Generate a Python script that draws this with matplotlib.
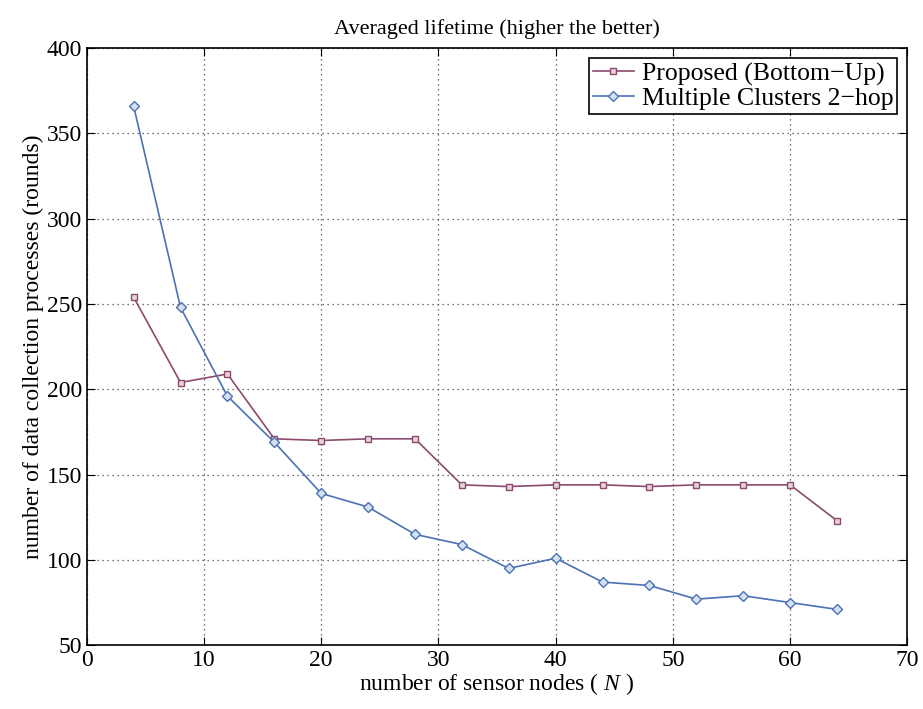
import matplotlib
matplotlib.use("Agg")
import matplotlib.pyplot as plt

# --- data ---
nodes = [4, 8, 12, 16, 20, 24, 28, 32, 36, 40, 44, 48, 52, 56, 60, 64]
proposed = [254, 204, 209, 171, 170, 171, 171, 144, 143, 144, 144, 143, 144, 144, 144, 123]
multi_2hop = [366, 248, 196, 169, 139, 131, 115, 109, 95, 101, 87, 85, 77, 79, 75, 71]

plt.rcParams['font.family'] = ['Liberation Serif', 'DejaVu Serif']
plt.rcParams['mathtext.fontset'] = 'custom'
plt.rcParams['mathtext.it'] = 'Liberation Serif:italic'
plt.rcParams['mathtext.rm'] = 'Liberation Serif'

fig = plt.figure(figsize=(9.23, 7.09), dpi=100)
ax = fig.add_axes([0.094, 0.090, 0.889, 0.842])

ax.plot(nodes, proposed, color='#8c4a6c', marker='s', markersize=5,
        markerfacecolor='#e6d3dc', markeredgecolor='#8c4a6c', linewidth=1.2,
        label='Proposed (Bottom\u2212Up)')
ax.plot(nodes, multi_2hop, color='#4a72b4', marker='D', markersize=5,
        markerfacecolor='#d7e0f0', markeredgecolor='#4a72b4', linewidth=1.2,
        label='Multiple Clusters 2\u2212hop')

ax.set_xlim(0, 70)
ax.set_ylim(50, 400)
ax.set_xticks(range(0, 71, 10))
ax.set_yticks(range(50, 401, 50))
ax.grid(True, linestyle=(0, (1, 3)), color='#444444', linewidth=0.9)
ax.tick_params(direction='in', top=True, right=True, labelsize=17, length=6)
for s in ax.spines.values():
    s.set_linewidth(1.2)

ax.set_title('Averaged lifetime (higher the better)', fontsize=16, pad=10)
ax.set_xlabel('number of sensor nodes ( $N$ )', fontsize=17, labelpad=0)
ax.set_ylabel('number of data collection processes (rounds)', fontsize=17, labelpad=2)

leg = ax.legend(loc='upper right', fontsize=18.5, fancybox=False, edgecolor='black',
                framealpha=1, handlelength=1.6, handletextpad=0.3,
                borderpad=0.15, labelspacing=0.05, borderaxespad=0.4)
leg.get_frame().set_linewidth(1.2)

fig.savefig('out.png', dpi=100)
